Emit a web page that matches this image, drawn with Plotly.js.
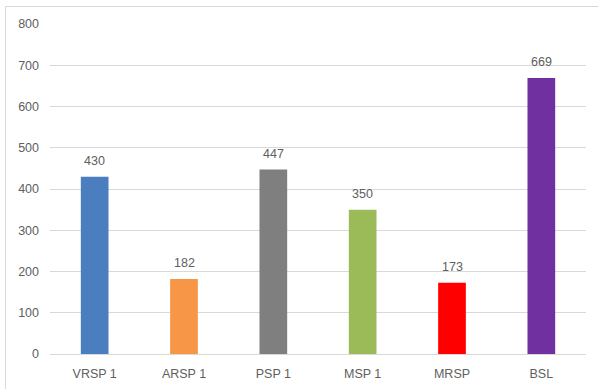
<!DOCTYPE html>
<html>
<head>
<meta charset="utf-8">
<script src="https://cdn.plot.ly/plotly-3.0.1.min.js"></script>
<style>
html,body{margin:0;padding:0;background:#fff;overflow:hidden;}
#frame{position:absolute;left:5px;top:6px;width:700px;height:500px;border:1px solid #d9d9d9;}
#chart{position:absolute;left:0;top:0;width:598px;height:389px;}
</style>
</head>
<body>
<div id="frame"></div>
<div id="chart"></div>
<script>
const categories = ["VRSP 1", "ARSP 1", "PSP 1", "MSP 1", "MRSP", "BSL"];
const values = [430, 182, 447, 350, 173, 669];
const colors = ["#4a7ebf", "#f79646", "#7f7f7f", "#9bbb59", "#ff0000", "#7030a0"];
const yTicks = [0, 100, 200, 300, 400, 500, 600, 700, 800];

const FONT = "'Liberation Sans', Arial, sans-serif";

const trace = {
  type: "bar",
  x: categories,
  y: values,
  marker: {color: colors},
  hoverinfo: "none"
};

const annotations = categories.map((c, i) => ({
  x: c, y: values[i], xref: "x", yref: "y",
  text: String(values[i]), showarrow: false,
  yanchor: "bottom", yshift: 7,
  font: {family: FONT, size: 12.5, color: "#606060"}
}));

const layout = {
  width: 598, height: 389,
  margin: {l: 50, r: 12, t: 24, b: 35},
  paper_bgcolor: "rgba(0,0,0,0)",
  plot_bgcolor: "rgba(0,0,0,0)",
  bargap: 0.69,
  showlegend: false,
  font: {family: FONT, size: 12.5, color: "#606060"},
  xaxis: {
    type: "category",
    showgrid: false, showline: false, ticks: "",
    tickfont: {family: FONT, size: 12.5, color: "#606060"},
    ticklabelstandoff: 10
  },
  yaxis: {
    range: [0, 800],
    tickvals: yTicks,
    ticktext: yTicks.map(String),
    showgrid: true, gridcolor: "#d9d9d9", gridwidth: 1,
    zeroline: true, zerolinecolor: "#d9d9d9", zerolinewidth: 1,
    showline: false, ticks: "",
    tickfont: {family: FONT, size: 12.5, color: "#606060"},
    ticklabelstandoff: 10
  },
  annotations: annotations
};

Plotly.newPlot("chart", [trace], layout, {displayModeBar: false, staticPlot: true});
</script>
</body>
</html>
